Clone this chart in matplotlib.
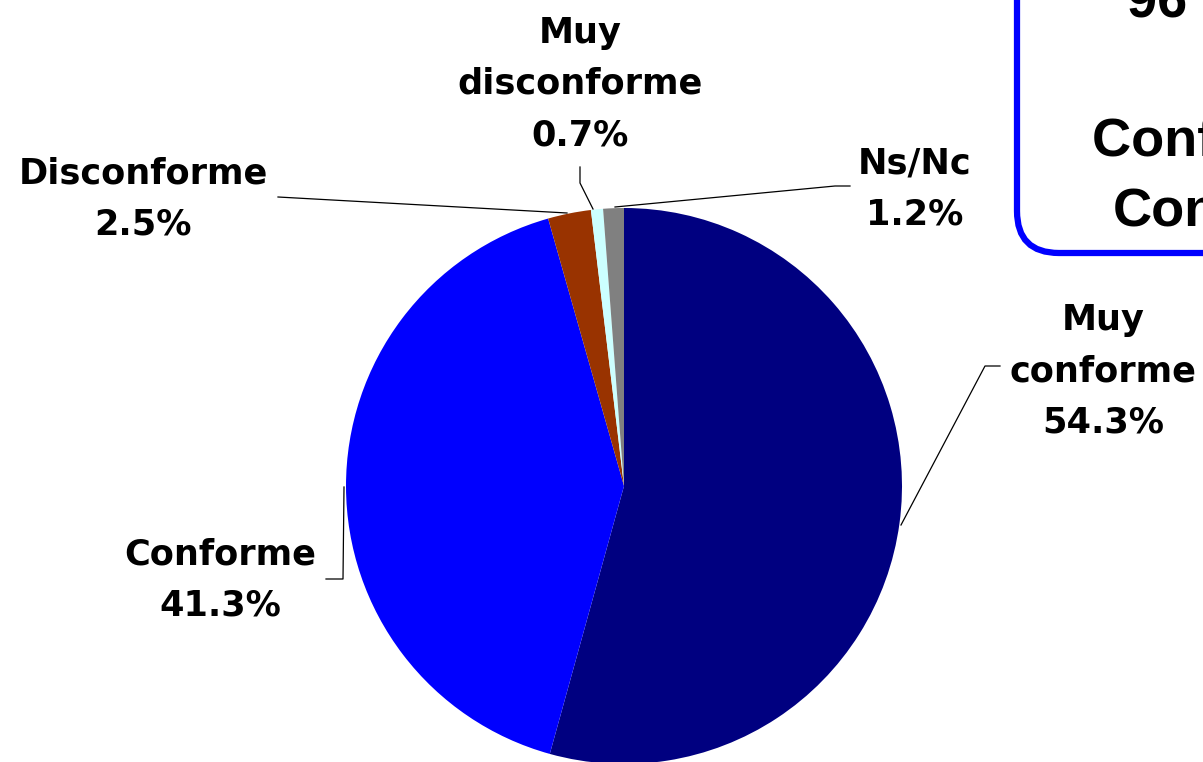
import matplotlib
matplotlib.use("Agg")
import matplotlib.pyplot as plt
from matplotlib.patches import FancyBboxPatch

# ---- data ----
categories = ["Muy\nconforme", "Conforme", "Disconforme", "Muy\ndisconforme", "Ns/Nc"]
values = [54.3, 41.3, 2.5, 0.7, 1.2]
colors = ["#000080", "#0000FF", "#993300", "#CCFFFF", "#808080"]
box_lines = ["96 %", "Conformes y", "Conformes"]

W, H = 1203, 762
fig = plt.figure(figsize=(W / 100, H / 100), dpi=100)
ax = fig.add_axes([0, 0, 1, 1])


def P(x, y):
    return (x, H - y)


cx, cy = P(624, 486)
ax.pie(values, colors=colors, startangle=90, counterclock=False,
       center=(cx, cy), radius=278, frame=True,
       wedgeprops=dict(linewidth=0))
ax.set_aspect("auto")
ax.set_xlim(0, W)
ax.set_ylim(0, H)
ax.axis("off")

label_font = dict(family="DejaVu Sans", weight="bold", size=25.3)
# label block centers (px)
label_pos = [(1103, 371), (220, 580), (143, 199), (580, 84), (915, 189)]
for name, v, (lx, ly) in zip(categories, values, label_pos):
    x, y = P(lx, ly)
    ax.text(x, y, f"{name}\n{v}%", ha="center", va="center",
            linespacing=1.64, color="black", **label_font)

# leader lines (px)
leaders = [
    [(901, 525), (985, 366), (1000, 366)],
    [(344, 487), (343, 579), (326, 579)],
    [(278, 197), (567, 213)],
    [(580, 167), (580, 183), (593, 209)],
    [(850, 186), (835, 186), (615, 207)],
]
for pts in leaders:
    xs = [p[0] for p in pts]
    ys = [H - p[1] for p in pts]
    ax.plot(xs, ys, color="black", lw=0.9)

# rounded box top-right
bx0, by0 = P(1017, 253)
box = FancyBboxPatch((bx0, by0), 400, 400,
                     boxstyle="round,pad=0,rounding_size=42",
                     facecolor="white", edgecolor="#0000FF", lw=4.5)
ax.add_patch(box)

box_font = dict(family="Liberation Sans", weight="bold", size=39)
box_pos = [(1127, 18), (1092, 156), (1113, 226)]
for txt, (tx, ty) in zip(box_lines, box_pos):
    x, y = P(tx, ty)
    ax.text(x, y, txt, ha="left", va="baseline", color="black", **box_font)

fig.savefig("out.png", dpi=100)
